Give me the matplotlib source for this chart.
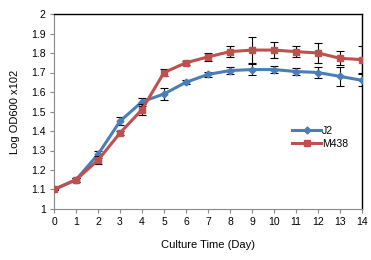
import matplotlib
matplotlib.use("Agg")
import matplotlib.pyplot as plt
from matplotlib.lines import Line2D

days = list(range(15))
j2 = [1.10, 1.15, 1.28, 1.45, 1.55, 1.59, 1.65, 1.69, 1.71, 1.715, 1.715, 1.705, 1.70, 1.68, 1.66]
j2_err = [0.005, 0.01, 0.02, 0.02, 0.02, 0.03, 0.01, 0.015, 0.02, 0.03, 0.02, 0.02, 0.03, 0.05, 0.03]
m438 = [1.10, 1.15, 1.25, 1.39, 1.51, 1.70, 1.75, 1.78, 1.807, 1.815, 1.815, 1.807, 1.80, 1.773, 1.766]
m438_err = [0.005, 0.01, 0.02, 0.01, 0.03, 0.02, 0.01, 0.02, 0.03, 0.065, 0.04, 0.03, 0.05, 0.035, 0.07]
yticks = [1, 1.1, 1.2, 1.3, 1.4, 1.5, 1.6, 1.7, 1.8, 1.9, 2]
ytick_labels = ["1", "1.1", "1.2", "1.3", "1.4", "1.5", "1.6", "1.7", "1.8", "1.9", "2"]

plt.rcParams['font.family'] = ['Liberation Sans', 'DejaVu Sans']
fig = plt.figure(figsize=(3.71, 2.6), dpi=100)
ax = fig.add_axes([54/371, 1-209/260, 308/371, 195/260])

blue = '#4A7EBB'
red = '#C0504D'
ax.errorbar(days, j2, yerr=j2_err, color=blue, marker='D', markersize=3.5, lw=2.2,
            ecolor='black', elinewidth=0.8, capsize=3, capthick=0.8, zorder=3)
ax.errorbar(days, m438, yerr=m438_err, color=red, marker='s', markersize=5, lw=2.2,
            ecolor='black', elinewidth=0.8, capsize=3, capthick=0.8, zorder=4)

ax.set_xlim(0, 14)
ax.set_ylim(1, 2)
ax.set_xticks(days)
ax.set_yticks(yticks)
ax.set_yticklabels(ytick_labels)
ax.tick_params(axis='both', labelsize=7.5, length=3, width=0.8, color='#888888', pad=3)
for s in ['left', 'bottom']:
    ax.spines[s].set_color('#888888')
    ax.spines[s].set_linewidth(0.8)
for s in ['top', 'right']:
    ax.spines[s].set_color('black')
    ax.spines[s].set_linewidth(1.0)

ax.set_xlabel('Culture Time (Day)', fontsize=8, labelpad=9)
ax.set_ylabel('Log OD600 x102', fontsize=8, labelpad=8)

handles = [Line2D([], [], color=blue, marker='D', markersize=3.5, lw=2.2),
           Line2D([], [], color=red, marker='s', markersize=5, lw=2.2)]
leg = ax.legend(handles, ['J2', 'M438'], loc='upper left', bbox_to_anchor=(292/371, 1 - 126/260),
                bbox_transform=fig.transFigure, frameon=False,
                fontsize=7.5, handlelength=2.8, handletextpad=0.1, labelspacing=0.3,
                borderaxespad=0, borderpad=0)

fig.savefig('out.png', dpi=100)
